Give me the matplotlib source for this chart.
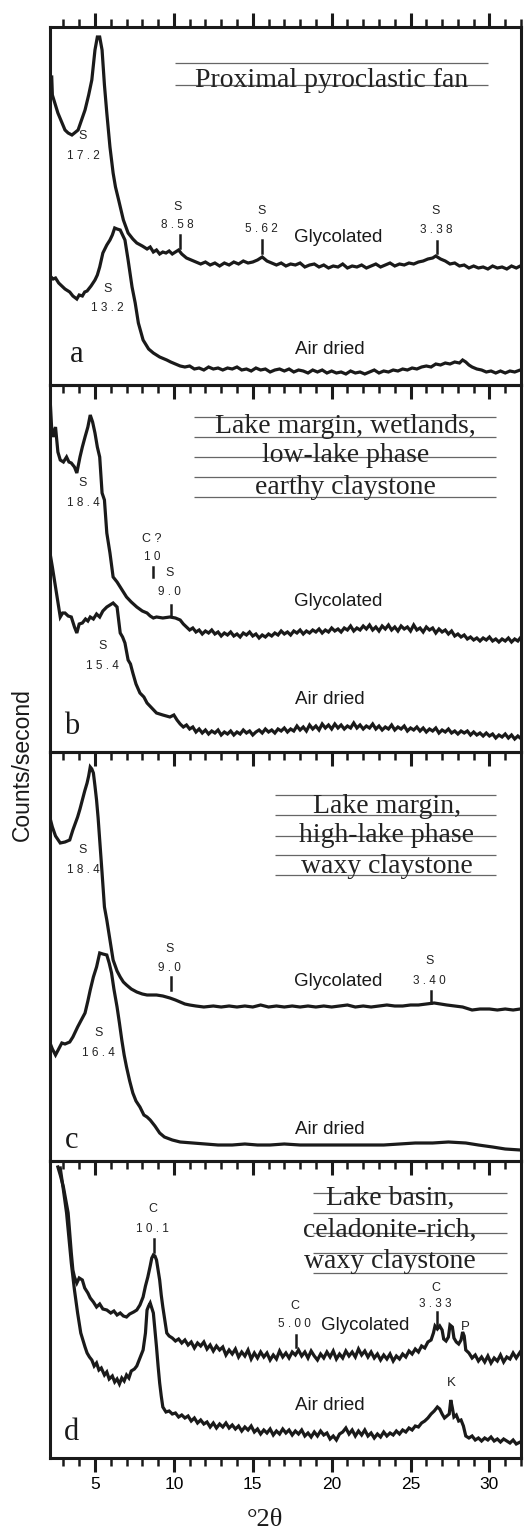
import matplotlib
matplotlib.use("Agg")
import matplotlib.pyplot as plt
from matplotlib.ticker import MultipleLocator, NullLocator

SANS = "Liberation Sans"
SERIF = "Liberation Serif"

# ---------------- data (degrees 2-theta, counts in arbitrary units) ----------------
a_gly_x = [2.26, 2.3, 2.65, 3.1, 3.3, 3.54, 3.7, 3.93, 4.15, 4.37, 4.6, 4.8, 5.0, 5.15, 5.3, 5.45, 5.6, 5.75, 5.95, 6.15, 6.3, 6.5, 6.8, 7.1, 7.4, 7.65,
           8.0, 8.3, 8.5, 8.7, 8.9, 9.1, 9.3, 9.5, 9.7, 9.9, 10.1, 10.3, 10.5,
           10.8, 11.1, 11.4, 11.7, 12.0, 12.3, 12.6, 12.9, 13.2, 13.5,
           13.8, 14.1, 14.4, 14.7, 15.0, 15.3, 15.6, 15.9, 16.2, 16.5,
           16.8, 17.1, 17.4, 17.7, 18.0, 18.3, 18.6, 18.9, 19.2, 19.5,
           19.8, 20.1, 20.4, 20.7, 21.0, 21.3, 21.6, 21.9, 22.2, 22.5,
           22.8, 23.1, 23.4, 23.7, 24.0, 24.3, 24.6, 24.9, 25.2, 25.5,
           25.8, 26.1, 26.4, 26.6, 26.9, 27.2, 27.5, 27.8, 28.1, 28.4,
           28.7, 29.0, 29.3, 29.6, 29.9, 30.2, 30.5, 30.8, 31.1, 31.4, 31.7, 31.95]
a_gly_y = [308, 290, 272, 255, 252, 250, 252, 255, 265, 275, 290, 305, 335, 348, 348, 335, 300, 272, 238, 212, 198, 185, 165, 152, 146, 142,
           139, 136, 138, 133, 135, 131, 133, 132, 134, 131, 133, 135, 131,
           127, 125, 123, 121, 123, 120, 122, 119, 122, 120,
           123, 121, 124, 122, 123, 125, 128, 124, 122, 120,
           122, 119, 121, 120, 122, 118, 120, 121, 118, 120,
           117, 119, 118, 121, 117, 119, 118, 120, 117, 119,
           121, 118, 120, 122, 119, 121, 120, 122, 121, 123,
           124, 126, 127, 129, 126, 124, 121, 122, 119, 120,
           117, 119, 117, 118, 116, 119, 117, 118, 116, 119, 117, 119]

a_air_x = [2.15, 2.35, 2.5, 2.7, 2.9, 3.1, 3.4, 3.6, 3.85, 4.0, 4.2, 4.35, 4.5, 4.75, 5.0, 5.15, 5.3, 5.5, 5.75, 5.95, 6.1, 6.25, 6.4, 6.6, 6.75, 6.9,
           7.1, 7.35, 7.55, 7.75, 8.05, 8.4, 8.7, 9.1, 9.55, 9.8,
           10.1, 10.4, 10.7, 11.0, 11.3, 11.6, 11.9, 12.2, 12.5, 12.8,
           13.1, 13.4, 13.7, 14.0, 14.3, 14.6, 14.9, 15.2, 15.5, 15.8,
           16.1, 16.4, 16.7, 17.0, 17.3, 17.6, 17.9, 18.2, 18.5, 18.8,
           19.1, 19.4, 19.7, 20.0, 20.3, 20.6, 20.9, 21.2, 21.5, 21.8,
           22.1, 22.4, 22.7, 23.0, 23.3, 23.6, 23.9, 24.2, 24.5, 24.8,
           25.1, 25.4, 25.7, 26.0, 26.3, 26.6, 26.9, 27.2, 27.5, 27.8,
           28.1, 28.3, 28.5, 28.7, 28.9, 29.2, 29.5, 29.8, 30.1, 30.4,
           30.7, 31.0, 31.3, 31.6, 31.95]
a_air_y = [109, 106, 107, 102, 99, 96, 93, 89, 86, 90, 89, 93, 94, 99, 105, 110, 118, 132, 140, 145, 150, 157, 156, 155, 150, 145,
           125, 98, 82, 62, 45, 36, 32, 28, 25, 23,
           21, 19, 18, 19, 16, 17, 15, 18, 16, 17,
           15, 17, 16, 18, 15, 16, 14, 17, 15, 16,
           13, 15, 16, 14, 16, 13, 15, 14, 12, 15,
           13, 15, 12, 14, 12, 13, 11, 14, 12, 13,
           11, 13, 15, 12, 14, 13, 15, 14, 16, 15,
           17, 16, 18, 19, 18, 21, 20, 22, 21, 23,
           22, 25, 23, 20, 18, 16, 15, 13, 14, 12,
           14, 12, 14, 13, 15]

b_gly_x = [2.15, 2.25, 2.35, 2.5, 2.65, 2.8, 3.0, 3.2, 3.35, 3.5, 3.7, 3.85, 4.05, 4.2, 4.37, 4.55, 4.7, 4.85, 5.0, 5.15, 5.3, 5.45, 5.6, 5.75, 5.95, 6.15,
           6.4, 6.6, 6.8, 7.0, 7.3, 7.65, 8.0, 8.3, 8.5, 8.7, 8.9, 9.3, 9.75, 10.1, 10.4, 10.6,
           10.8, 11.0, 11.2, 11.4, 11.6, 11.8, 12.0, 12.2, 12.4, 12.6,
           12.8, 13.0, 13.2, 13.4, 13.6, 13.8, 14.0, 14.2, 14.4, 14.6,
           14.8, 15.0, 15.2, 15.4, 15.6, 15.8, 16.0, 16.2, 16.4, 16.6,
           16.8, 17.0, 17.2, 17.4, 17.6, 17.8, 18.0, 18.2, 18.4, 18.6,
           18.8, 19.0, 19.2, 19.4, 19.6, 19.8, 20.0, 20.2, 20.4, 20.6,
           20.8, 21.0, 21.2, 21.4, 21.6, 21.8, 22.0, 22.2, 22.4, 22.6,
           22.8, 23.0, 23.2, 23.4, 23.6, 23.8, 24.0, 24.2, 24.4, 24.6,
           24.8, 25.0, 25.2, 25.4, 25.6, 25.8, 26.0, 26.2, 26.4, 26.6,
           26.8, 27.0, 27.2, 27.4, 27.6, 27.8, 28.0, 28.2, 28.4, 28.6,
           28.8, 29.0, 29.2, 29.4, 29.6, 29.8, 30.0, 30.2, 30.4, 30.6,
           30.8, 31.0, 31.2, 31.4, 31.6, 31.8, 31.95]
b_gly_y = [355, 325, 315, 325, 300, 292, 290, 295, 290, 289, 285, 279, 295, 305, 315, 325, 337, 330, 319, 305, 295, 259, 252, 219, 199, 175,
           170, 165, 160, 155, 150, 145, 141, 139, 136, 134, 135, 134, 135, 134, 132, 128,
           125, 122, 124, 120, 122, 118, 121, 119, 122, 118,
           120, 116, 119, 117, 120, 116, 118, 115, 119, 117,
           120, 116, 118, 114, 117, 115, 118, 116, 119, 117,
           121, 118, 120, 117, 121, 119, 122, 118, 121, 119,
           122, 120, 123, 119, 122, 120, 124, 121, 123, 120,
           124, 122, 126, 121, 124, 122, 126, 123, 127, 122,
           125, 121, 126, 123, 127, 122, 125, 121, 126, 123,
           125, 121, 127, 122, 124, 120, 125, 122, 124, 119,
           123, 120, 122, 118, 121, 116, 118, 115, 117, 113,
           115, 112, 114, 111, 114, 112, 115, 111, 113, 110,
           113, 111, 114, 110, 113, 111, 114]

b_air_x = [2.15, 2.3, 2.5, 2.65, 2.8, 2.95, 3.1, 3.3, 3.5, 3.7, 3.85, 4.0, 4.2, 4.4, 4.55, 4.7, 4.9, 5.1, 5.3, 5.5, 5.75, 5.95, 6.15, 6.4, 6.6, 6.75,
           6.9, 7.1, 7.25, 7.4, 7.6, 7.85, 8.1, 8.3, 8.6, 8.9, 9.3, 9.75, 10.0, 10.2, 10.4,
           10.6, 10.8, 11.0, 11.2, 11.4, 11.6, 11.8, 12.0, 12.2, 12.4,
           12.6, 12.8, 13.0, 13.2, 13.4, 13.6, 13.8, 14.0, 14.2, 14.4,
           14.6, 14.8, 15.0, 15.2, 15.4, 15.6, 15.8, 16.0, 16.2, 16.4,
           16.6, 16.8, 17.0, 17.2, 17.4, 17.6, 17.8, 18.0, 18.2, 18.4,
           18.6, 18.8, 19.0, 19.2, 19.4, 19.6, 19.8, 20.0, 20.2, 20.4,
           20.6, 20.8, 21.0, 21.2, 21.4, 21.6, 21.8, 22.0, 22.2, 22.4,
           22.6, 22.8, 23.0, 23.2, 23.4, 23.6, 23.8, 24.0, 24.2, 24.4,
           24.6, 24.8, 25.0, 25.2, 25.4, 25.6, 25.8, 26.0, 26.2, 26.4,
           26.6, 26.8, 27.0, 27.2, 27.4, 27.6, 27.8, 28.0, 28.2, 28.4,
           28.6, 28.8, 29.0, 29.2, 29.4, 29.6, 29.8, 30.0, 30.2, 30.4,
           30.6, 30.8, 31.0, 31.2, 31.4, 31.6, 31.8, 31.95]
b_air_y = [199, 185, 165, 150, 135, 139, 139, 136, 135, 125, 119, 128, 129, 133, 131, 135, 133, 138, 135, 141, 145, 147, 149, 145, 119, 115,
           109, 92, 88, 79, 68, 59, 55, 49, 44, 39, 37, 35, 37, 32, 28,
           25, 27, 23, 25, 20, 23, 19, 22, 18, 21,
           19, 22, 17, 20, 18, 21, 17, 20, 18, 22,
           19, 21, 17, 20, 22, 19, 23, 20, 22, 19,
           23, 21, 24, 20, 23, 21, 26, 22, 25, 21,
           27, 23, 26, 22, 28, 24, 27, 23, 28, 24,
           27, 23, 26, 24, 29, 24, 27, 23, 26, 24,
           28, 23, 26, 22, 25, 23, 27, 22, 25, 23,
           26, 21, 24, 22, 25, 21, 24, 20, 23, 21,
           24, 19, 22, 20, 23, 19, 21, 18, 21, 19,
           21, 17, 20, 17, 19, 16, 19, 16, 18, 14,
           17, 15, 18, 14, 17, 13, 16, 14]

c_gly_x = [2.15, 2.3, 2.5, 2.8, 3.1, 3.4, 3.6, 3.9, 4.05, 4.2, 4.35, 4.5, 4.6, 4.7, 4.8, 4.9, 5.0, 5.1,
           5.2, 5.3, 5.45, 5.6, 5.75, 5.95, 6.15, 6.4, 6.6, 6.8, 7.0, 7.3, 7.65, 8.0, 8.3, 8.6, 8.9,
           9.3, 9.75, 10.1, 10.4, 10.7, 11.0, 11.4, 11.9, 12.5, 13.0, 13.5, 14.0, 14.5, 15.0, 15.5,
           16.0, 16.5, 17.0, 17.5, 18.0, 18.5, 19.0, 19.5, 20.0, 20.5, 21.0, 21.5, 22.0, 22.5, 23.0,
           23.5, 24.0, 24.5, 25.0, 25.5, 26.0, 26.5, 26.9, 27.3, 27.8, 28.3, 28.9, 29.4, 30.0, 30.5,
           31.0, 31.5, 31.95]
c_gly_y = [343, 334, 325, 318, 319, 321, 331, 344, 352, 361, 370, 378, 385, 394, 392, 388, 375, 361,
           343, 321, 288, 254, 241, 221, 201, 190, 184, 179, 176, 172, 169, 167, 166, 166, 166,
           165, 163, 161, 159, 157, 156, 155, 154, 155, 154, 155, 154, 155, 154, 156,
           154, 155, 154, 155, 154, 155, 154, 155, 154, 155, 156, 154, 155, 154, 155,
           156, 155, 155, 156, 156, 157, 158, 157, 156, 155, 154, 151, 152, 152, 151,
           152, 151, 152]

c_air_x = [2.15, 2.3, 2.5, 2.7, 2.9, 3.1, 3.4, 3.6, 3.9, 4.1, 4.37, 4.55, 4.7, 4.9, 5.1, 5.3, 5.5, 5.75,
           5.9, 6.05, 6.2, 6.4, 6.55, 6.7, 6.85, 7.0, 7.2, 7.4, 7.6, 7.85, 8.1, 8.3, 8.5, 8.8, 9.1,
           9.4, 9.9, 10.4, 11.2, 12.0, 12.8, 13.7, 14.5, 15.3, 16.1, 17.0, 18.0, 19.0, 20.0, 21.0,
           22.2, 23.3, 24.3, 25.3, 26.4, 27.4, 28.5, 29.3, 30.2, 31.0, 31.95]
c_air_y = [118, 112, 106, 112, 118, 117, 119, 124, 134, 140, 148, 160, 171, 184, 194, 208, 207, 206,
           198, 188, 172, 154, 138, 121, 106, 94, 80, 68, 60, 54, 46, 44, 41, 35, 28,
           24, 21, 19, 18, 17, 16, 16, 17, 16, 16, 17, 16, 16, 16, 16,
           16, 16, 17, 18, 18, 19, 18, 16, 14, 12, 11]

d_gly_x = [2.65, 2.8, 3.0, 3.15, 3.3, 3.4, 3.5, 3.6, 3.7, 3.85, 4.0, 4.2, 4.35, 4.55, 4.7, 4.9, 5.1, 5.3, 5.5, 5.75, 6.0, 6.2, 6.4, 6.6, 6.8, 7.0,
           7.2, 7.45, 7.65, 7.85, 8.05, 8.2, 8.35, 8.5, 8.6, 8.7, 8.8, 8.9, 9.0, 9.1, 9.2, 9.3, 9.45, 9.55, 9.7,
           9.9, 10.1, 10.3, 10.5, 10.7, 10.9, 11.1, 11.3, 11.5, 11.7,
           11.9, 12.1, 12.3, 12.5, 12.7, 12.9, 13.1, 13.3, 13.5, 13.7,
           13.9, 14.1, 14.3, 14.5, 14.7, 14.9, 15.1, 15.3, 15.5, 15.7,
           15.9, 16.1, 16.3, 16.5, 16.7, 16.9, 17.1, 17.3, 17.5, 17.7,
           17.9, 18.1, 18.3, 18.5, 18.7, 18.9, 19.1, 19.3, 19.5, 19.7,
           19.9, 20.1, 20.3, 20.5, 20.7, 20.9, 21.1, 21.3, 21.5, 21.7,
           21.9, 22.1, 22.3, 22.5, 22.7, 22.9, 23.1, 23.3, 23.5, 23.7,
           23.9, 24.1, 24.3, 24.5, 24.7, 24.9, 25.1, 25.3, 25.5, 25.7,
           25.9, 26.1, 26.3, 26.45, 26.55, 26.7, 26.85, 27.0, 27.1, 27.25,
           27.4, 27.5, 27.65, 27.75, 27.9, 28.05, 28.2, 28.3, 28.4, 28.5,
           28.7, 28.9, 29.1, 29.3, 29.5, 29.7, 29.9, 30.1, 30.3, 30.5,
           30.7, 30.9, 31.1, 31.3, 31.5, 31.7, 31.95]
d_gly_y = [291, 283, 271, 258, 245, 225, 205, 188, 181, 175, 180, 178, 170, 165, 160, 156, 151, 154, 149, 148, 145, 147, 143, 145, 142, 141,
           144, 146, 148, 153, 161, 172, 181, 192, 200, 203, 202, 198, 188, 178, 163, 151, 135, 125, 122,
           120, 117, 119, 115, 118, 113, 116, 110, 115, 112,
           116, 109, 113, 107, 112, 108, 111, 103, 108, 104,
           109, 101, 106, 102, 108, 99, 105, 100, 106, 101,
           105, 98, 103, 99, 107, 101, 105, 100, 106, 103,
           108, 102, 106, 100, 107, 102, 98, 104, 100, 106,
           101, 107, 99, 104, 100, 107, 102, 106, 101, 109,
           103, 107, 101, 106, 100, 104, 98, 103, 99, 104,
           97, 102, 99, 104, 101, 107, 104, 109, 106, 112,
           110, 116, 118, 125, 132, 129, 132, 128, 119, 117,
           121, 133, 131, 120, 116, 114, 118, 126, 122, 108,
           105, 100, 103, 97, 101, 96, 102, 95, 100, 97,
           103, 96, 101, 99, 105, 100, 106]

d_air_x = [2.8, 3.0, 3.2, 3.35, 3.5, 3.7, 3.9, 4.1, 4.37, 4.5, 4.65, 4.8, 4.95, 5.1, 5.25, 5.4, 5.6, 5.75, 5.9, 6.1, 6.25, 6.4, 6.55, 6.7, 6.85, 7.0,
           7.15, 7.3, 7.5, 7.65, 7.85, 8.05, 8.2, 8.3, 8.4, 8.5, 8.6, 8.7, 8.8, 8.9, 9.0, 9.1, 9.2,
           9.3, 9.5, 9.7, 9.9, 10.1, 10.3, 10.5, 10.7, 10.9, 11.1,
           11.3, 11.5, 11.7, 11.9, 12.1, 12.3, 12.5, 12.7, 12.9, 13.1,
           13.3, 13.5, 13.7, 13.9, 14.1, 14.3, 14.5, 14.7, 14.9, 15.1,
           15.3, 15.5, 15.7, 15.9, 16.1, 16.3, 16.5, 16.7, 16.9, 17.1,
           17.3, 17.5, 17.7, 17.9, 18.1, 18.3, 18.5, 18.7, 18.9, 19.1,
           19.3, 19.5, 19.7, 19.9, 20.1, 20.3, 20.5, 20.7, 20.9, 21.1,
           21.3, 21.5, 21.7, 21.9, 22.1, 22.3, 22.5, 22.7, 22.9, 23.1,
           23.3, 23.5, 23.7, 23.9, 24.1, 24.3, 24.5, 24.7, 24.9, 25.1,
           25.3, 25.5, 25.7, 25.9, 26.1, 26.3, 26.5, 26.7, 26.85, 27.0,
           27.15, 27.3, 27.45, 27.55, 27.65, 27.75, 27.9, 28.05, 28.2, 28.35,
           28.5, 28.7, 28.9, 29.1, 29.3, 29.5, 29.7, 29.9, 30.1, 30.3,
           30.5, 30.7, 30.9, 31.1, 31.3, 31.5, 31.7, 31.95]
d_air_y = [290, 268, 245, 220, 195, 168, 145, 125, 111, 105, 101, 98, 92, 95, 88, 90, 83, 86, 79, 82, 76, 79, 74, 80, 77, 83,
           80, 87, 89, 92, 100, 108, 125, 148, 152, 155, 150, 145, 128, 111, 92, 75, 62,
           51, 46, 47, 44, 45, 41, 43, 40, 42, 37,
           40, 35, 38, 34, 36, 31, 35, 30, 34, 31,
           35, 30, 33, 29, 32, 27, 31, 28, 32, 26,
           29, 24, 28, 25, 29, 23, 27, 24, 29, 25,
           28, 23, 27, 24, 28, 22, 25, 21, 26, 22,
           27, 23, 25, 19, 22, 18, 24, 26, 30, 24,
           28, 22, 27, 23, 28, 22, 25, 20, 24, 21,
           26, 22, 25, 23, 27, 24, 28, 26, 30, 28,
           32, 31, 35, 37, 40, 44, 47, 51, 49, 44,
           40, 42, 44, 58, 50, 41, 43, 37, 38, 32,
           22, 20, 22, 18, 20, 17, 20, 18, 21, 17,
           19, 16, 19, 17, 15, 18, 14, 16]

panel_letters = ["a", "b", "c", "d"]
panel_titles = [["Proximal pyroclastic fan"],
                ["Lake margin, wetlands,", "low-lake phase", "earthy claystone"],
                ["Lake margin,", "high-lake phase", "waxy claystone"],
                ["Lake basin,", "celadonite-rich,", "waxy claystone"]]

curves = [(a_gly_x, a_gly_y, a_air_x, a_air_y),
          (b_gly_x, b_gly_y, b_air_x, b_air_y),
          (c_gly_x, c_gly_y, c_air_x, c_air_y),
          (d_gly_x, d_gly_y, d_air_x, d_air_y)]
for cv in curves:
    assert len(cv[0]) == len(cv[1]) and len(cv[2]) == len(cv[3])

# ---------------- figure ----------------
W, H = 529, 1532
fig = plt.figure(figsize=(W / 100, H / 100), dpi=100)
INK = "#1a1a1a"

# panel pixel extents (top, bottom)
extents = [(27, 385), (385, 752), (752, 1161), (1161, 1458)]
x0, x1 = 50, 521
axes = []
for i, (top, bot) in enumerate(extents):
    ax = fig.add_axes([x0 / W, 1 - bot / H, (x1 - x0) / W, (bot - top) / H])
    ax.patch.set_visible(False)
    ax.set_xlim(2.15, 32.0)
    ax.set_ylim(0, bot - top)
    for s in ax.spines.values():
        s.set_linewidth(2.2)
        s.set_color(INK)
    ax.yaxis.set_major_locator(NullLocator())
    ax.xaxis.set_major_locator(MultipleLocator(5))
    ax.xaxis.set_minor_locator(MultipleLocator(1))
    # every tick points outward; a bottom tick of one panel reads as the inward
    # top tick of the panel below
    ax.tick_params(axis="x", which="both", direction="out", top=(i == 0), bottom=True,
                   labeltop=False, labelbottom=(i == 3), color=INK)
    ax.tick_params(axis="x", which="major", length=10, width=2.2, pad=4, labelsize=12.5)
    ax.tick_params(axis="x", which="minor", length=5.5, width=1.8)
    axes.append(ax)

for lab in axes[3].get_xticklabels():
    lab.set_fontfamily(SANS)

for ax, (gx, gy, axx, axy) in zip(axes, curves):
    ax.plot(gx, gy, color=INK, lw=2.3, solid_joinstyle="miter")
    ax.plot(axx, axy, color=INK, lw=2.3, solid_joinstyle="miter")


def peak(ax, x, mineral, value, y_top, y_num, tick=None, tx=None):
    ax.text(x, y_top, mineral, ha="center", va="center", fontsize=9, family=SANS, color="#222")
    ax.text(x, y_num, value, ha="center", va="center", fontsize=8.5, family=SANS, color="#222")
    if tick is not None:
        ax.plot([tx if tx is not None else x] * 2, tick, color=INK, lw=1.8)


def label(ax, x, y, s):
    ax.text(x, y, s, ha="center", va="center", fontsize=13.5, family=SANS, color=INK)


def letter(ax, x, y, s):
    ax.text(x, y, s, ha="center", va="center", fontsize=22, family=SERIF, color=INK)


def title(ax, xc, baselines, lines, rule_y, rule_x):
    for yb, s in zip(baselines, lines):
        ax.text(xc, yb, s, ha="center", va="baseline", fontsize=20, family=SERIF, color="#222")
    ax.hlines(rule_y, rule_x[0], rule_x[1], color="#666666", lw=0.9)


# panel a
ax = axes[0]
peak(ax, 4.24, "S", "1 7 . 2", 249, 229)
peak(ax, 5.80, "S", "1 3 . 2", 96, 77)
peak(ax, 10.25, "S", "8 . 5 8", 178, 160, (137, 150), 10.38)
peak(ax, 15.57, "S", "5 . 6 2", 174, 156, (132, 145))
peak(ax, 26.60, "S", "3 . 3 8", 174, 155, (132, 144), 26.65)
label(ax, 20.44, 147, "Glycolated")
label(ax, 19.87, 36, "Air dried")
letter(ax, 3.86, 30, panel_letters[0])
title(ax, 20.0, [298], panel_titles[0], [322, 300], (10.05, 29.9))

# panel b
ax = axes[1]
peak(ax, 4.24, "S", "1 8 . 4", 269, 249)
peak(ax, 8.60, "C ?", "1 0", 213, 195, (175, 185), 8.67)
peak(ax, 9.70, "S", "9 . 0", 179, 160, (137, 147), 9.8)
peak(ax, 5.50, "S", "1 5 . 4", 106, 86)
label(ax, 20.44, 151, "Glycolated")
label(ax, 19.87, 53, "Air dried")
letter(ax, 3.54, 25, panel_letters[1])
title(ax, 20.9, [319, 290, 258], panel_titles[1], [335, 315, 295, 275, 255], (11.3, 30.4))

# panel c
ax = axes[2]
peak(ax, 4.24, "S", "1 8 . 4", 311, 291)
peak(ax, 9.70, "S", "9 . 0", 212, 193, (171, 184), 9.8)
peak(ax, 26.20, "S", "3 . 4 0", 200, 180, (158, 170), 26.3)
peak(ax, 5.25, "S", "1 6 . 4", 128, 108)
label(ax, 20.44, 180, "Glycolated")
label(ax, 19.87, 32, "Air dried")
letter(ax, 3.54, 21, panel_letters[2])
title(ax, 23.5, [348, 319, 288], panel_titles[2], [366, 346, 325, 306, 286], (16.4, 30.4))

# panel d
ax = axes[3]
peak(ax, 8.67, "C", "1 0 . 1", 249, 229, (206, 219), 8.73)
peak(ax, 17.66, "C", "5 . 0 0", 152, 134, (111, 123), 17.72)
peak(ax, 26.58, "C", "3 . 3 3", 170, 154, (133, 146), 26.65)
ax.text(28.48, 131, "P", ha="center", va="center", fontsize=9.5, family=SANS, color="#222")
ax.text(27.60, 75, "K", ha="center", va="center", fontsize=9.5, family=SANS, color="#222")
label(ax, 22.15, 133, "Glycolated")
label(ax, 19.87, 52, "Air dried")
letter(ax, 3.54, 26, panel_letters[3])
title(ax, 23.7, [253, 221, 190], panel_titles[3], [265, 245, 225, 205, 185], (18.8, 31.1))

fig.text(22 / W, 1 - 765 / H, "Counts/second", rotation=90, ha="center", va="center",
         fontsize=16.5, family=SANS, color=INK)
fig.text(265 / W, 1 - 1520 / H, "°2θ", ha="center", va="center", fontsize=19,
         family=SERIF, color=INK)

fig.savefig("out.png", dpi=100, facecolor="white")
